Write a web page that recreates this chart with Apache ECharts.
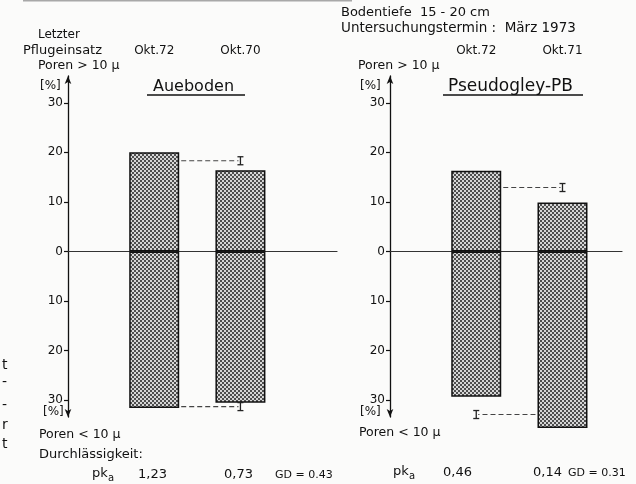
<!DOCTYPE html>
<html>
<head>
<meta charset="utf-8">
<script src="https://cdn.jsdelivr.net/npm/echarts@6/dist/echarts.min.js"></script>
<style>
html,body{margin:0;padding:0;background:#fbfbfa;}
#c{width:636px;height:484px;}
</style>
</head>
<body>
<div id="c"></div>
<script>
// ---------- data ----------
const catsL = ['Okt.72', 'Okt.70'];          // Aueboden: letzter Pflugeinsatz
const catsR = ['Okt.72', 'Okt.71'];          // Pseudogley-PB
const poreGtL = [20, 16.4];                  // Poren > 10 µ [%]
const poreLtL = [31.6, 30.5];                // Poren < 10 µ [%]
const poreGtR = [16.3, 9.9];
const poreLtR = [29.3, 35.6];
const pkaL = ['1,23', '0,73'];
const pkaR = ['0,46', '0,14'];
const gdL = 'GD = 0.43';
const gdR = 'GD = 0.31';
// GD markers (dashed line from bar "from" to marker "I" at bar "to")
const lsdFromL = [1, 1], lsdToL = [2, 2], lsdValL = [18.3, -31.3];
const lsdFromR = [1, 2], lsdToR = [2, 1], lsdValR = [12.9, -32.9];
const yTicks = [-30, -20, -10, 0, 10, 20, 30];
const yMin = -33.4, yMax = 35.4;

// ---------- styles ----------
const BAR_W = 50;
const INK = '#111';
const FONT = 'DejaVu Sans';

function makePattern() {
  const c = document.createElement('canvas');
  c.width = 4; c.height = 4;
  const g = c.getContext('2d');
  g.fillStyle = '#d6d6d6'; g.fillRect(0, 0, 4, 4);
  g.fillStyle = '#4e4e4e';
  g.fillRect(0, 0, 2, 2); g.fillRect(2, 2, 2, 2);
  return c;
}
const pattern = { image: makePattern(), repeat: 'repeat' };

const chart = echarts.init(document.getElementById('c'), null, { renderer: 'canvas' });

function yAxisDef(grid) {
  return {
    type: 'value', gridIndex: grid, min: yMin, max: yMax,
    axisLine: { show: true, onZero: false, lineStyle: { color: INK, width: 1.3 },
      symbol: ['arrow', 'arrow'], symbolSize: [5, 8] },
    axisTick: { show: true, length: 4, customValues: yTicks, lineStyle: { color: INK, width: 1.2 } },
    axisLabel: { customValues: yTicks, formatter: v => String(Math.abs(v)), color: INK,
      fontFamily: FONT, fontSize: 12, margin: 5 },
    splitLine: { show: false }
  };
}
function xAxisZero(grid, max) {
  return {
    type: 'value', gridIndex: grid, min: 0, max: max,
    axisLine: { show: true, onZero: true, lineStyle: { color: '#333', width: 1.2 } },
    axisTick: { show: false }, axisLabel: { show: false }, splitLine: { show: false }
  };
}
function xAxisTop(grid, max, cats) {
  return {
    type: 'value', gridIndex: grid, min: 0, max: max, position: 'top',
    axisLine: { show: false, onZero: false }, axisTick: { show: false }, splitLine: { show: false },
    axisLabel: { customValues: [1, 2], formatter: v => cats[Math.round(v) - 1],
      color: INK, fontFamily: FONT, fontSize: 12, margin: 19 }
  };
}
function barSeries(xi, yi, vals, sign) {
  return {
    type: 'bar', xAxisIndex: xi, yAxisIndex: yi, stack: 's' + xi, barWidth: BAR_W, clip: false,
    data: vals.map((v, i) => [i + 1, sign * v]),
    itemStyle: { color: pattern, borderColor: '#111', borderWidth: 1.5 },
    z: 2
  };
}
function lsdSeries(xi, yi, from, to, vals) {
  return {
    type: 'custom', xAxisIndex: xi, yAxisIndex: yi, clip: false, z: 3,
    data: vals.map((v, i) => [from[i], to[i], v]),
    encode: { x: [0, 1], y: 2 },
    renderItem: function (params, api) {
      const v = api.value(2);
      const pf = api.coord([api.value(0), v]);
      const pt = api.coord([api.value(1), v]);
      const dir = pt[0] > pf[0] ? 1 : -1;
      const x0 = pf[0] + dir * (BAR_W / 2 + 2);
      const x1 = pt[0] - dir * 2;
      const y = pt[1];
      const st = { stroke: '#222', lineWidth: 1.3 };
      return {
        type: 'group', children: [
          { type: 'line', shape: { x1: x0, y1: y, x2: x1, y2: y },
            style: { stroke: '#444', lineWidth: 1.2, lineDash: [5, 3] } },
          { type: 'line', shape: { x1: pt[0], y1: y - 4, x2: pt[0], y2: y + 4 }, style: st },
          { type: 'line', shape: { x1: pt[0] - 3, y1: y - 4, x2: pt[0] + 3, y2: y - 4 }, style: st },
          { type: 'line', shape: { x1: pt[0] - 3, y1: y + 4, x2: pt[0] + 3, y2: y + 4 }, style: st }
        ]
      };
    }
  };
}
function txt(text, x, y, size, extra) {
  return {
    type: 'text', x: x, y: y, silent: true,
    style: Object.assign({ text: text, fill: INK, font: size + 'px "' + FONT + '"',
      textVerticalAlign: 'middle', verticalAlign: 'middle', textAlign: 'left', align: 'left' }, extra || {})
  };
}
function hline(x1, x2, y, w, col) {
  return { type: 'line', silent: true, shape: { x1: x1, y1: y, x2: x2, y2: y },
    style: { stroke: col || INK, lineWidth: w || 1.3 } };
}

const graphics = [
  hline(23, 352, 0.5, 2, '#a8a8a8'),
  // left panel
  txt('Letzter', 38, 35, 12),
  txt('Pflugeinsatz', 23, 51, 13),
  txt('Poren > 10 \u03bc', 38, 66, 12.5),
  txt('[%]', 40, 86, 12),
  txt('Aueboden', 153, 87, 16),
  hline(147, 245, 95, 1.4),
  txt('[%]', 43, 412, 12),
  txt('Poren < 10 \u03bc', 39, 435, 12.5),
  txt('Durchl\u00e4ssigkeit:', 39, 455, 13),
  txt('pk', 92, 474, 13), txt('a', 108, 478, 10),
  txt(pkaL[0], 138, 475, 13), txt(pkaL[1], 224, 475, 13),
  txt(gdL, 275, 475, 11),
  // right panel
  txt('Bodentiefe  15 - 20 cm', 341, 13, 13),
  txt('Untersuchungstermin :  M\u00e4rz 1973', 341, 28, 13.5),
  txt('Poren > 10 \u03bc', 358, 66, 12.5),
  txt('[%]', 360, 86, 12),
  txt('Pseudogley-PB', 448, 87, 17),
  hline(443, 583, 95, 1.4),
  txt('[%]', 360, 412, 12),
  txt('Poren < 10 \u03bc', 359, 433, 12.5),
  txt('pk', 393, 472, 13), txt('a', 409, 476, 10),
  txt(pkaR[0], 443, 473, 13), txt(pkaR[1], 533, 473, 13),
  txt(gdR, 568, 473, 11),
  // cut-off margin letters
  txt('t', 2, 365, 14), txt('-', 2, 382, 14), txt('-', 2, 405, 14),
  txt('r', 2, 425, 14), txt('t', 2, 444, 14)
];

chart.setOption({
  backgroundColor: '#fbfbfa',
  animation: false,
  grid: [
    { left: 68, top: 76, width: 269, height: 341, containLabel: false },
    { left: 390, top: 76, width: 232, height: 341, containLabel: false }
  ],
  xAxis: [
    xAxisZero(0, 3.12), xAxisZero(1, 2.69),
    xAxisTop(0, 3.12, catsL), xAxisTop(1, 2.69, catsR)
  ],
  yAxis: [yAxisDef(0), yAxisDef(1)],
  series: [
    barSeries(0, 0, poreGtL, 1), barSeries(0, 0, poreLtL, -1),
    barSeries(1, 1, poreGtR, 1), barSeries(1, 1, poreLtR, -1),
    lsdSeries(0, 0, lsdFromL, lsdToL, lsdValL),
    lsdSeries(1, 1, lsdFromR, lsdToR, lsdValR)
  ],
  graphic: graphics
});
</script>
</body>
</html>
